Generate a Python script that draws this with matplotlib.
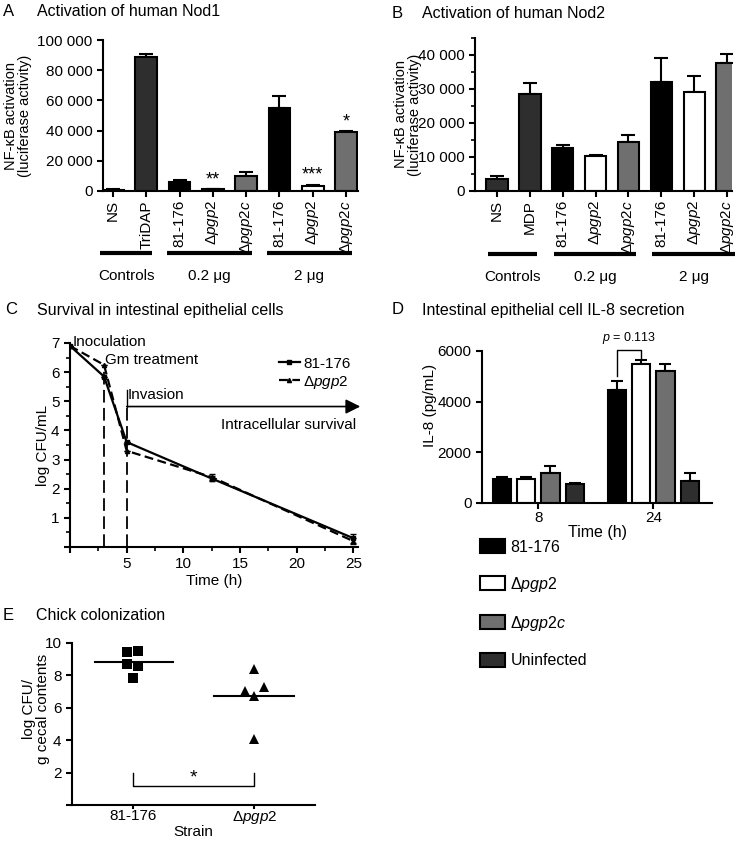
import numpy as np
import matplotlib
matplotlib.use('Agg')
import matplotlib.pyplot as plt
from matplotlib.ticker import FuncFormatter, MultipleLocator
from matplotlib.patches import Patch

plt.rcParams['font.family'] = ['Liberation Sans', 'DejaVu Sans']
plt.rcParams['mathtext.fontset'] = 'custom'
plt.rcParams['mathtext.rm'] = 'Liberation Sans'
plt.rcParams['mathtext.it'] = 'Liberation Sans:italic'
plt.rcParams['axes.linewidth'] = 1.5
plt.rcParams['xtick.major.width'] = 1.5
plt.rcParams['ytick.major.width'] = 1.5
plt.rcParams['xtick.minor.width'] = 1.2
plt.rcParams['ytick.minor.width'] = 1.2

MUT = r'Δ$\it{pgp2}$'
COMP = r'Δ$\it{pgp2c}$'

# ---- data -------------------------------------------------------------
nod1_labels = ['NS', 'TriDAP', '81-176', MUT, COMP, '81-176', MUT, COMP]
nod1_vals = [800, 88500, 6200, 1000, 10000, 55000, 3500, 39000]
nod1_err = [300, 2000, 1000, 300, 2500, 8000, 800, 800]
nod1_stars = ['', '', '', '**', '', '', '***', '*']

nod2_labels = ['NS', 'MDP', '81-176', MUT, COMP, '81-176', MUT, COMP]
nod2_vals = [3600, 28500, 12500, 10300, 14500, 32000, 29000, 37500]
nod2_err = [800, 3200, 900, 400, 2100, 7000, 4700, 2700]

bar_kind = ['ctrl', 'ctrl', 'wt', 'mut', 'comp', 'wt', 'mut', 'comp']
group_names = ['Controls', '0.2 μg', '2 μg']
group_spans = [(0, 1), (2, 4), (5, 7)]

time_pts = [0, 3, 5, 12.5, 25]
cfu_wt = [6.9, 5.85, 3.6, 2.35, 0.3]
cfu_mut = [6.9, 6.25, 3.3, 2.4, 0.2]
cfu_wt_err = [0, 0, 0, 0.08, 0.15]
cfu_mut_err = [0, 0, 0, 0.1, 0.1]

il8_times = ['8', '24']
il8_strains = ['81-176', MUT, COMP, 'Uninfected']
il8_wt = [930, 4480]
il8_mut = [960, 5470]
il8_comp = [1200, 5230]
il8_uninf = [750, 870]
il8_wt_err = [100, 320]
il8_mut_err = [50, 170]
il8_comp_err = [250, 250]
il8_uninf_err = [30, 330]

col_strains = ['81-176', MUT]
col_wt = [9.45, 9.5, 8.7, 8.55, 7.85]
col_mut = [8.4, 7.05, 7.3, 6.7, 4.1]

colors = {'ctrl': '#2e2e2e', 'wt': '#000000', 'mut': '#ffffff', 'comp': '#6f6f6f'}

W, H = 745, 842
fig = plt.figure(figsize=(W / 100, H / 100), dpi=100)


def ax_at(l, t, r, b):
    return fig.add_axes([l / W, 1 - b / H, (r - l) / W, (b - t) / H])


def style(ax):
    ax.spines['top'].set_visible(False)
    ax.spines['right'].set_visible(False)
    ax.tick_params(direction='out', length=4, labelsize=11)


def panel_title(letter, text, x_letter, x_text, y):
    fig.text(x_letter / W, 1 - y / H, letter, fontsize=12, va='center')
    fig.text(x_text / W, 1 - y / H, text, fontsize=11.5, va='center')


def space_fmt(v, pos):
    return f'{int(round(v)):,}'.replace(',', ' ')


def nod_panel(ax, labels, vals, errs, xlim, ylim, yticks, spans_pad):
    x = np.arange(len(vals))
    cols = [colors[k] for k in bar_kind]
    ax.bar(x, vals, width=0.65, color=cols, edgecolor='black', linewidth=1.5, zorder=2)
    ax.errorbar(x, vals, yerr=[np.zeros(len(vals)), errs], fmt='none', ecolor='black',
                elinewidth=1.5, capsize=5, capthick=1.5, zorder=1)
    ax.set_xlim(*xlim)
    ax.set_ylim(*ylim)
    ax.set_yticks(yticks)
    ax.yaxis.set_major_formatter(FuncFormatter(space_fmt))
    ax.set_xticks(x)
    ax.set_xticklabels(labels, rotation=90, fontsize=9.3)
    style(ax)
    ax.tick_params(axis='x', pad=2.5)
    trans = ax.get_xaxis_transform()
    for name, (a, b) in zip(group_names, group_spans):
        ax.plot([a - spans_pad[0], b + spans_pad[1]], [-0.41, -0.41], color='black', lw=3,
                transform=trans, clip_on=False, solid_capstyle='butt')
        ax.text((a - spans_pad[0] + b + spans_pad[1]) / 2, -0.56, name, transform=trans,
                ha='center', va='center', fontsize=11)
    ax.set_ylabel('NF-κB activation\n(luciferase activity)', fontsize=10.5, linespacing=1.0)


# ---- A ----------------------------------------------------------------
axA = ax_at(103, 40, 358, 191)
nod_panel(axA, nod1_labels, nod1_vals, nod1_err, (-0.3, 7.36), (0, 100000),
          [0, 20000, 40000, 60000, 80000, 100000], (0.38, 0.17))
for i, s in enumerate(nod1_stars):
    if s:
        axA.text(i, nod1_vals[i] + nod1_err[i] + 600, s, ha='center', va='bottom', fontsize=13)
axA.yaxis.set_label_coords(-0.278, 0.5)
panel_title('A', 'Activation of human Nod1', 3, 37, 12)

# ---- B ----------------------------------------------------------------
axB = ax_at(475, 38, 732, 191)
nod_panel(axB, nod2_labels, nod2_vals, nod2_err, (-0.67, 7.15), (0, 45000),
          [0, 10000, 20000, 30000, 40000], (0.27, 0.23))
axB.yaxis.set_minor_locator(MultipleLocator(5000))
axB.tick_params(which='minor', length=3)
axB.yaxis.set_label_coords(-0.205, 0.5)
panel_title('B', 'Activation of human Nod2', 392, 422, 13)

# ---- C ----------------------------------------------------------------
axC = ax_at(70, 343, 358, 547)
axC.plot(time_pts, cfu_wt, color='black', lw=1.6, marker='s', ms=3, label='81-176', zorder=3)
axC.plot(time_pts, cfu_mut, color='black', lw=1.6, ls=(0, (4, 2)), marker='^', ms=3,
         label=MUT, zorder=3)
axC.errorbar(time_pts, cfu_wt, yerr=cfu_wt_err, fmt='none', ecolor='black', elinewidth=1, capsize=2)
axC.errorbar(time_pts, cfu_mut, yerr=cfu_mut_err, fmt='none', ecolor='black', elinewidth=1, capsize=2)
axC.plot([3, 3], [0, 6.25], color='black', lw=1.3, ls=(0, (7, 3)), zorder=2)
axC.plot([5, 5], [0, 4.8], color='black', lw=1.3, ls=(0, (7, 3)), zorder=2)
axC.plot([5, 5], [4.8, 5.4], color='black', lw=1.0, zorder=2)
axC.annotate('', xy=(25.6, 4.82), xytext=(5, 4.82), annotation_clip=False,
             arrowprops=dict(arrowstyle='-|>', lw=1.2, color='black', mutation_scale=22,
                             shrinkA=0, shrinkB=0))
axC.text(0.25, 7.05, 'Inoculation', fontsize=11, va='center', ha='left')
axC.text(3.1, 6.4, 'Gm treatment', fontsize=11, va='center', ha='left')
axC.text(5.05, 5.2, 'Invasion', fontsize=11, va='center', ha='left')
axC.text(25.2, 4.2, 'Intracellular survival', fontsize=11, va='center', ha='right')
axC.set_xlim(0, 25.4)
axC.set_ylim(0, 7)
axC.set_xticks([0, 5, 10, 15, 20, 25])
axC.set_xticklabels(['', '5', '10', '15', '20', '25'])
axC.set_yticks([0, 1, 2, 3, 4, 5, 6, 7])
axC.set_yticklabels(['', '1', '2', '3', '4', '5', '6', '7'])
axC.xaxis.set_minor_locator(MultipleLocator(2.5))
axC.yaxis.set_minor_locator(MultipleLocator(0.5))
style(axC)
axC.tick_params(which='minor', length=3)
axC.set_xlabel('Time (h)', fontsize=11, labelpad=2)
axC.set_ylabel('log CFU/mL', fontsize=11)
axC.yaxis.set_label_coords(-0.07, 0.5)
axC.legend(loc='upper right', bbox_to_anchor=(1.0, 0.97), frameon=False, fontsize=11,
           handlelength=1.4, handletextpad=0.2, labelspacing=0.2, borderpad=0)
panel_title('C', 'Survival in intestinal epithelial cells', 5, 37, 310)

# ---- D ----------------------------------------------------------------
axD = ax_at(482, 351, 712, 503)
xg = np.arange(len(il8_times))
step = 0.211
series = [(il8_wt, il8_wt_err, colors['wt']), (il8_mut, il8_mut_err, colors['mut']),
          (il8_comp, il8_comp_err, colors['comp']), (il8_uninf, il8_uninf_err, colors['ctrl'])]
handles = []
for j, (vals, errs, c) in enumerate(series):
    xs = xg + (j - 1.5) * step
    axD.bar(xs, vals, width=0.157, color=c, edgecolor='black', linewidth=1.5, zorder=2)
    axD.errorbar(xs, vals, yerr=[np.zeros(len(vals)), errs], fmt='none', ecolor='black',
                 elinewidth=1.5, capsize=4, capthick=1.5, zorder=1)
    handles.append(Patch(facecolor=c, edgecolor='black', linewidth=1.5, label=il8_strains[j]))
axD.set_xlim(-0.49, 1.51)
axD.set_ylim(0, 6000)
axD.set_yticks([0, 2000, 4000, 6000])
axD.set_xticks(xg)
axD.set_xticklabels(il8_times)
style(axD)
axD.tick_params(axis='x', pad=2)
axD.set_xlabel('Time (h)', fontsize=11.5, labelpad=0)
axD.set_ylabel('IL-8 (pg/mL)', fontsize=11)
axD.yaxis.set_label_coords(-0.196, 0.64)
# p-value bracket
xa = 1 - 1.5 * step
xb = 1 - 0.5 * step
axD.plot([xa, xa, xb, xb], [5000, 6050, 6050, 5680], color='black', lw=1, clip_on=False)
axD.text((xa + xb) / 2, 6200, r'$\it{p}$ = 0.113', ha='center', va='bottom', fontsize=9)
fig.legend(handles=handles, loc='upper left', bbox_to_anchor=(480 / W, 1 - 539 / H),
           frameon=False, fontsize=11.5, handlelength=1.55, handleheight=1.0,
           handletextpad=0.35, labelspacing=1.25, borderpad=0, borderaxespad=0)
panel_title('D', 'Intestinal epithelial cell IL-8 secretion', 392, 422, 310)

# ---- E ----------------------------------------------------------------
axE = ax_at(72, 643, 315, 805)
wt_off = [-0.05, 0.04, -0.05, 0.04, 0.0]
mut_off = [0.0, -0.08, 0.08, 0.0, 0.0]
axE.plot(1 + np.array(wt_off), col_wt, 's', color='black', ms=6.5, mew=0, ls='none')
axE.plot(2 + np.array(mut_off), col_mut, '^', color='black', ms=6.5, mew=0, ls='none')
axE.plot([0.69, 1.33], [np.mean(col_wt)] * 2, color='black', lw=1.5)
axE.plot([1.67, 2.33], [np.mean(col_mut)] * 2, color='black', lw=1.5)
axE.plot([1, 1, 2, 2], [2.0, 1.2, 1.2, 2.0], color='black', lw=1)
axE.text(1.5, 1.15, '*', ha='center', va='bottom', fontsize=14)
axE.set_xlim(0.5, 2.5)
axE.set_ylim(0, 10)
axE.set_yticks([0, 2, 4, 6, 8, 10])
axE.set_yticklabels(['', '2', '4', '6', '8', '10'])
axE.set_xticks([1, 2])
axE.set_xticklabels(col_strains)
style(axE)
axE.tick_params(axis='x', length=3, pad=0)
axE.set_xlabel('Strain', fontsize=11, labelpad=-1)
axE.set_ylabel('log CFU/\ng cecal contents', fontsize=11, linespacing=1.0)
axE.yaxis.set_label_coords(-0.09, 0.59)
panel_title('E', 'Chick colonization', 3, 36, 615)

fig.savefig('out.png', dpi=100)
